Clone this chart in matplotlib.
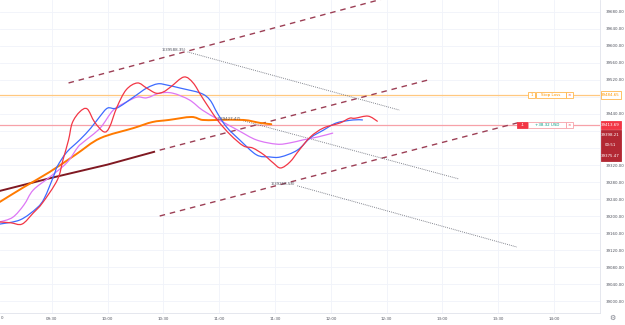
import matplotlib
matplotlib.use("Agg")
import matplotlib.pyplot as plt
from matplotlib.patches import Rectangle, PathPatch
from matplotlib.path import Path

# series values: times (HH:MM) and prices
blue_t = ["09:02", "09:13", "09:22", "09:26", "09:31", "09:33", "09:38", "09:45", "09:51",
          "09:56", "10:00", "10:05", "10:14", "10:21", "10:27", "10:32", "10:39", "10:50",
          "10:55", "10:59", "11:04", "11:11", "11:20", "11:27", "11:33", "11:42", "11:49",
          "11:56", "12:03", "12:12", "12:17"]
blue_p = [39181, 39191, 39219, 39242, 39294, 39317, 39350, 39379, 39407,
          39435, 39454, 39454, 39480, 39501, 39511, 39508, 39501, 39489,
          39473, 39442, 39409, 39379, 39344, 39339, 39339, 39355, 39384,
          39402, 39419, 39426, 39426]

red_t = ["09:02", "09:08", "09:14", "09:20", "09:25", "09:33", "09:36", "09:39", "09:41",
         "09:45", "09:49", "09:53", "09:58", "10:01", "10:05", "10:10", "10:16", "10:21",
         "10:26", "10:30", "10:34", "10:41", "10:46", "10:51", "10:59", "11:06", "11:13",
         "11:18", "11:24", "11:29", "11:33", "11:38", "11:43", "11:49", "11:56", "12:05",
         "12:10", "12:13", "12:20", "12:25"]
red_p = [39186, 39184, 39181, 39207, 39231, 39285, 39332, 39379, 39419,
         39445, 39452, 39421, 39398, 39409, 39456, 39497, 39513, 39501,
         39489, 39492, 39504, 39527, 39513, 39478, 39426, 39391, 39365,
         39360, 39344, 39325, 39313, 39327, 39355, 39386, 39407, 39419,
         39430, 39430, 39435, 39423]

violet_t = ["09:02", "09:09", "09:15", "09:20", "09:29", "09:38", "09:44", "09:47", "09:56",
            "10:03", "10:10", "10:16", "10:21", "10:28", "10:35", "10:44", "10:51", "11:00",
            "11:10", "11:20", "11:31", "11:38", "11:45", "11:53", "12:01"]
violet_p = [39186, 39197, 39226, 39261, 39292, 39325, 39362, 39374, 39407,
            39449, 39468, 39480, 39478, 39489, 39489, 39473, 39449, 39426,
            39402, 39379, 39369, 39372, 39379, 39386, 39395]

orange_t = ["09:02", "09:15", "09:29", "09:43", "09:56", "10:14", "10:24", "10:33", "10:45",
            "10:51", "10:59", "11:13", "11:22", "11:28"]
orange_p = [39233, 39268, 39304, 39345, 39383, 39407, 39421, 39426, 39433,
            39426, 39426, 39426, 39419, 39416]

regr_t = ["09:02", "09:30", "10:00", "10:25"]
regr_p = [39259, 39290, 39321, 39351]

# channel (dashed) and projection (dotted) lines: start/end points
channel_t = [("09:39", "12:40"), ("10:28", "12:54"), ("10:28", "13:42")]
channel_p = [(39513, 39725), (39355, 39522), (39200, 39421)]
proj_t = [("10:43", "12:37"), ("11:13", "13:09"), ("11:42", "13:40")]
proj_p = [(39586, 39449), (39424, 39287), (39271, 39127)]
pivot_labels = ["1(39588.35)", "1(39427.47)", "1(39268.58)"]

stop_loss = 39484.65
entry = 39413.69
last_price = 39398.21
regr_last = 39375.47
countdown = "00:51"
pnl_text = "+38.32 USD"

y_ticks = [39000 + 40 * i for i in range(18)]
x_ticks = [30 * i for i in range(1, 11)]
x_labels = ["09:30", "10:00", "10:30", "11:00", "11:30", "12:00",
            "12:30", "13:00", "13:30", "14:00"]


def mins(s):
    h, m = s.split(":")
    return (int(h) - 9) * 60 + int(m)


def to_x(ts):
    return [mins(s) for s in ts]


def smooth_line(ax, ts, ps, color, lw, z):
    """draw a smooth curve through the points (Catmull-Rom as Bezier segments)"""
    xs, ys = to_x(ts), ps
    n = len(xs)
    verts = [(xs[0], ys[0])]
    codes = [Path.MOVETO]
    for i in range(n - 1):
        x0, y0 = (xs[i - 1], ys[i - 1]) if i > 0 else (xs[i], ys[i])
        x1, y1 = xs[i], ys[i]
        x2, y2 = xs[i + 1], ys[i + 1]
        x3, y3 = (xs[i + 2], ys[i + 2]) if i + 2 < n else (x2, y2)
        c1 = (x1 + (x2 - x0) / 6, y1 + (y2 - y0) / 6)
        c2 = (x2 - (x3 - x1) / 6, y2 - (y3 - y1) / 6)
        verts += [c1, c2, (x2, y2)]
        codes += [Path.CURVE4] * 3
    ax.add_patch(PathPatch(Path(verts, codes), facecolor="none", edgecolor=color,
                           lw=lw, zorder=z, capstyle="round", joinstyle="round"))


W, H = 625, 325
fig = plt.figure(figsize=(W / 100, H / 100), dpi=100)
ax = fig.add_axes([0, 12 / H, 600 / W, 313 / H])
XMAX = 324.7
ax.set_xlim(2.15, XMAX)
ax.set_ylim(38971.8, 39708.2)

grid_c = "#f0f3fa"
for v in y_ticks:
    ax.axhline(v, color=grid_c, lw=0.6, zorder=0)
for v in x_ticks:
    ax.axvline(v, color=grid_c, lw=0.6, zorder=0)

ax.axhline(stop_loss, color="#ffc880", lw=0.9, zorder=1)
ax.axhline(entry, color="#f7a1a8", lw=0.9, zorder=1)

for (t0, t1), (p0, p1) in zip(channel_t, channel_p):
    ax.plot(to_x([t0, t1]), [p0, p1], color="#9c3f55", lw=1.0,
            dashes=(4, 3.5), zorder=2)
for (t0, t1), (p0, p1) in zip(proj_t, proj_p):
    ax.plot(to_x([t0, t1]), [p0, p1], color="#6a6d78", lw=0.7,
            dashes=(0.8, 1.2), zorder=2)

ax.plot(to_x(regr_t), regr_p, color="#801922", lw=1.4, zorder=3)
smooth_line(ax, orange_t, orange_p, "#ff7a00", 1.4, 3)
smooth_line(ax, violet_t, violet_p, "#dd77f5", 0.9, 4)
smooth_line(ax, blue_t, blue_p, "#3d6bff", 0.9, 5)
smooth_line(ax, red_t, red_p, "#f23645", 0.9, 6)

fs = 2.9
for lab, (t0, _), (p0, _) in zip(pivot_labels, proj_t, proj_p):
    ax.text(mins(t0) - 1, p0 + 4, lab, fontsize=fs, color="#50535e",
            ha="right", va="center", zorder=7)


def px(x):
    return (x + 4) / 1.86


def box(x0, x1, yc, h, fc, ec, text, tc):
    ax.add_patch(Rectangle((x0, yc - h / 2), x1 - x0, h, facecolor=fc, edgecolor=ec,
                           lw=0.6, zorder=8, clip_on=False))
    ax.text((x0 + x1) / 2, yc, text, fontsize=fs, color=tc, ha="center",
            va="center", zorder=9, clip_on=False)


# order labels inside the chart
oc = "#ffb74d"
rc = "#f23645"
box(px(528), px(535), stop_loss, 14, "white", oc, "1", "#ff9800")
box(px(536), px(566), stop_loss, 14, "white", oc, "Stop Loss", "#ff9800")
box(px(566), px(573), stop_loss, 14, "white", oc, "×", rc)
box(px(517), px(528), entry, 14, rc, rc, "-1", "white")
box(px(528), px(566), entry, 14, "white", "#f7a1a8", pnl_text, "#089981")
box(px(566), px(573), entry, 14, "white", "#f7a1a8", "×", rc)

# price scale
for s in ["top", "left"]:
    ax.spines[s].set_visible(False)
for s in ["right", "bottom"]:
    ax.spines[s].set_color("#e0e3eb")
    ax.spines[s].set_linewidth(0.6)
ax.yaxis.tick_right()
hidden = {39360, 39400, 39480}
ax.set_yticks(y_ticks)
ax.set_yticklabels(["" if v in hidden else f"{v:.2f}" for v in y_ticks])
ax.set_xticks(x_ticks)
ax.set_xticklabels(x_labels)
ax.tick_params(axis="both", length=0, labelsize=fs, colors="#50535e")
ax.tick_params(axis="y", pad=4)
ax.tick_params(axis="x", pad=3)


def price_box(p, h, fc, ec, lines, tc):
    ax.add_patch(Rectangle((XMAX + 0.3, p - h / 2), 11.0, h, facecolor=fc,
                           edgecolor=ec, lw=0.6, zorder=8, clip_on=False))
    n = len(lines)
    for i, s in enumerate(lines):
        ax.text(XMAX + 5.6, p + (n - 1) / 2 * (h / n) - i * (h / n), s,
                fontsize=fs, color=tc, ha="center", va="center",
                zorder=9, clip_on=False)


price_box(stop_loss, 20, "white", oc, [f"{stop_loss:.2f}"], "#ff9800")
price_box(entry, 20, rc, rc, [f"{entry:.2f}"], "white")
price_box(39366, 72, "#b22833", "#b22833",
          [f"{last_price:.2f}", countdown, f"{regr_last:.2f}"], "white")

fig.text(1 / W, 1 - 318 / H, "0", fontsize=fs, color="#50535e", va="center")
fig.text(612 / W, 1 - 318 / H, "⚙", fontsize=5, color="#787b86",
         ha="center", va="center")

fig.savefig("out.png", dpi=100)
